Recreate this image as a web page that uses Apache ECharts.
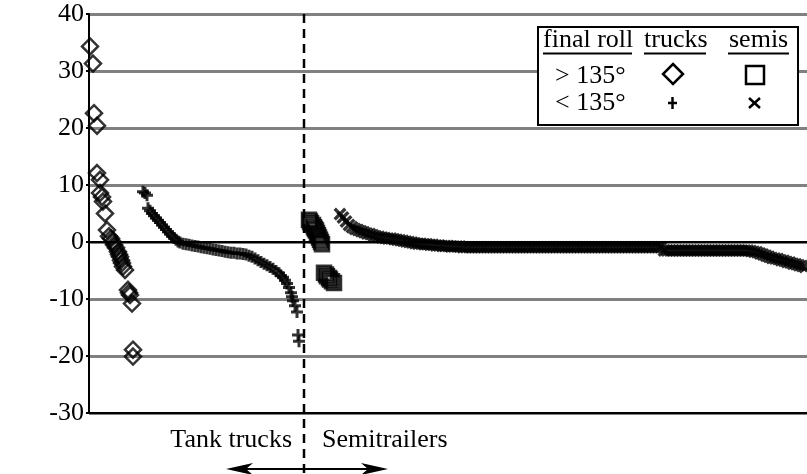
<!DOCTYPE html>
<html>
<head>
<meta charset="utf-8">
<script src="https://cdn.jsdelivr.net/npm/echarts/dist/echarts.min.js"></script>
<style>
  html, body { margin: 0; padding: 0; background: #fff; }
  #chart { width: 807px; height: 474px; }
</style>
</head>
<body>
<div id="chart"></div>
<script>
// Pitch axis
const yMin = -30, yMax = 40, yStep = 10;
// Vehicles are ranked along x; the divider separates tank trucks from semitrailers
const rankMax = 718;
const dividerRank = 215;

// Tank trucks, final roll > 135 deg
const truckRollHighRank  = [1, 4, 5, 8, 8, 11, 11, 13, 14, 16, 18, 20, 22, 24, 25, 27, 29, 30, 31, 32, 33, 34, 36, 39, 40, 41, 43, 44, 44];
const truckRollHighPitch = [34.3, 31.3, 22.6, 20.4, 12.1, 10.9, 8.6, 7.9, 7.1, 5.0, 2.1, 1.0, 0.6, 0.0, -0.5, -1.0, -1.7, -2.2, -2.6, -3.2, -3.7, -4.3, -4.9, -8.4, -8.9, -9.3, -10.8, -18.9, -20.1];

// Tank trucks, final roll < 135 deg
const truckRollLowRank  = [54, 56, 58, 59, 61, 63, 65, 67, 69, 71, 73, 75, 77, 79, 81, 83, 85, 87, 89, 91, 94, 97, 100, 103, 106, 109, 112, 115, 118, 121, 124, 127, 130, 133, 136, 139, 142, 145, 148, 151, 154, 157, 160, 163, 166, 169, 172, 175, 178, 181, 184, 187, 190, 192, 194, 196, 198, 200, 202, 203, 204, 206, 208, 209, 210];
const truckRollLowPitch = [8.8, 8.6, 8.2, 5.9, 5.5, 5.0, 4.6, 4.2, 3.8, 3.4, 3.0, 2.6, 2.2, 1.8, 1.4, 1.0, 0.7, 0.4, 0.1, -0.1, -0.3, -0.4, -0.5, -0.6, -0.7, -0.8, -0.9, -1.0, -1.1, -1.2, -1.3, -1.4, -1.5, -1.6, -1.7, -1.8, -1.9, -1.9, -2.0, -2.0, -2.1, -2.2, -2.4, -2.6, -2.9, -3.2, -3.5, -3.8, -4.1, -4.4, -4.7, -5.1, -5.5, -5.9, -6.2, -6.7, -7.3, -8.0, -8.9, -9.6, -10.3, -11.2, -12.3, -16.3, -17.4];

// Semitrailers, final roll > 135 deg
const semiRollHighRank  = [220, 221, 222, 224, 225, 226, 227, 228, 229, 230, 231, 232, 233, 235, 237, 238, 240, 241, 243, 245];
const semiRollHighPitch = [3.9, 3.6, 3.3, 3.0, 2.6, 2.3, 2.0, 1.6, 1.2, 0.8, 0.4, 0.0, -0.4, -5.4, -5.7, -6.0, -6.3, -6.6, -6.9, -7.2];

// Semitrailers, final roll < 135 deg
const semiRollLowRank = [
  251, 254, 257, 260, 263, 266, 269, 272, 275, 278, 281, 284, 287, 290, 293, 296, 299, 302, 305, 308, 311, 314,
  317, 320, 323, 326, 329, 332, 335, 338, 341, 344, 347, 350, 353, 356, 359, 362, 365, 368, 371, 374, 377,
  380, 383, 386, 389, 392, 395, 398, 401, 404, 407, 410, 413, 416, 419, 422, 425, 428, 431, 434, 437, 440, 443,
  446, 449, 452, 455, 458, 461, 464, 467, 470, 473, 476, 479, 482, 485, 488, 491, 494, 497, 500, 503, 506, 509,
  512, 515, 518, 521, 524, 527, 530, 533, 536, 539, 542, 545, 548, 551, 554, 557, 560, 563, 566, 569, 572,
  575, 578, 581, 584, 587, 590, 593, 596, 599, 602, 605, 608, 611, 614, 617, 620, 623, 626, 629, 632, 635, 638,
  641, 644, 647, 650, 653, 656, 659,
  662, 665, 668, 671, 674, 677, 680, 683, 686, 689, 692, 695, 698, 701, 704, 707, 710, 713, 716, 719
];
const semiRollLowPitch = [
  4.9, 4.3, 3.6, 3.0, 2.6, 2.3, 2.1, 1.9, 1.7, 1.5, 1.4, 1.2, 1.0, 0.9, 0.8, 0.7, 0.6, 0.6, 0.5, 0.4, 0.3, 0.2,
  0.1, 0.0, -0.1, -0.2, -0.3, -0.3, -0.4, -0.4, -0.5, -0.5, -0.6, -0.6, -0.7, -0.7, -0.7, -0.8, -0.8, -0.8, -0.8, -0.9, -0.9,
  -0.9, -0.9, -0.9, -0.9, -0.9, -0.9, -0.9, -0.9, -0.9, -0.9, -0.9, -0.9, -0.9,
  -0.9, -0.9, -0.9, -0.9, -0.9, -0.9, -0.9, -0.9, -0.9, -0.9, -0.9, -0.9, -0.9,
  -0.9, -0.9, -0.9, -0.9, -0.9, -0.9, -0.9, -0.9, -0.9, -0.9, -0.9, -0.9, -0.9,
  -0.9, -0.9, -0.9, -0.9, -0.9, -0.9, -0.9, -0.9, -0.9, -0.9, -0.9, -0.9, -0.9,
  -0.9, -0.9, -0.9, -0.9, -0.9, -0.9, -0.9, -0.9, -0.9, -0.9, -0.9, -0.9, -0.9,
  -1.5, -1.5, -1.5, -1.5, -1.5, -1.5, -1.5, -1.5, -1.5, -1.5, -1.5, -1.5, -1.5, -1.5, -1.5,
  -1.5, -1.5, -1.5, -1.5, -1.5, -1.5, -1.5, -1.5, -1.5, -1.5, -1.5, -1.5, -1.5, -1.5,
  -1.6, -1.7, -1.8, -2.0, -2.2, -2.4, -2.6, -2.8, -2.9, -3.0, -3.2, -3.3, -3.5, -3.6, -3.8, -3.9, -4.1, -4.2, -4.4, -4.5
];

// Legend table text
const legendHeader = ['final roll', 'trucks', 'semis'];
const legendRows = ['> 135°', '< 135°'];
const groupLabels = ['Tank trucks', 'Semitrailers'];
const yAxisTitle = 'Final pitch angle, degrees';

(function () {
  const FONT = '"Liberation Serif", "Times New Roman", serif';
  const PLUS_PATH = 'path://M3,0H5V3H8V5H5V8H3V5H0V3H3Z';
  const CROSS_PATH = 'path://M1.5,0L4,2.5L6.5,0L8,1.5L5.5,4L8,6.5L6.5,8L4,5.5L1.5,8L0,6.5L2.5,4L0,1.5Z';

  const zip = (xs, ys) => xs.map((x, i) => [x, ys[i]]);

  const chart = echarts.init(document.getElementById('chart'), null, { renderer: 'canvas' });

  const hollow = { color: 'rgba(0,0,0,0)', borderColor: '#000', borderWidth: 2.5 };
  const solid = { color: '#000', borderWidth: 0 };

  chart.setOption({
    animation: false,
    backgroundColor: '#fff',
    grid: { left: 89, right: 0, top: 14, bottom: 61, containLabel: false },
    xAxis: {
      type: 'value', min: 0, max: rankMax,
      axisLine: { show: true, onZero: false, lineStyle: { color: '#000', width: 2 } },
      axisTick: { show: false }, axisLabel: { show: false }, splitLine: { show: false }
    },
    yAxis: {
      type: 'value', min: yMin, max: yMax, interval: yStep,
      axisLine: { show: true, lineStyle: { color: '#000', width: 2 } },
      axisTick: { show: true, length: 3, lineStyle: { color: '#000', width: 2 } },
      axisLabel: { color: '#000', fontFamily: FONT, fontSize: 26, margin: 5 },
      splitLine: { show: true, lineStyle: { color: '#808080', width: 3 } }
    },
    series: [
      {
        name: 'trucks > 135', type: 'scatter', symbol: 'diamond', symbolSize: 16,
        itemStyle: hollow, data: zip(truckRollHighRank, truckRollHighPitch),
        markLine: {
          silent: true, symbol: 'none', label: { show: false },
          lineStyle: { color: '#000', width: 2, type: 'solid' },
          data: [{ yAxis: 0 }]
        }
      },
      {
        name: 'trucks < 135', type: 'scatter', symbol: PLUS_PATH, symbolSize: 12,
        itemStyle: solid, data: zip(truckRollLowRank, truckRollLowPitch)
      },
      {
        name: 'semis > 135', type: 'scatter', symbol: 'rect', symbolSize: 14,
        itemStyle: hollow, data: zip(semiRollHighRank, semiRollHighPitch)
      },
      {
        name: 'semis < 135', type: 'scatter', symbol: CROSS_PATH, symbolSize: 13,
        itemStyle: solid, data: zip(semiRollLowRank, semiRollLowPitch)
      }
    ]
  });

  // Annotations: divider, group labels, arrow, legend table, axis title
  const divTop = chart.convertToPixel({ gridIndex: 0 }, [dividerRank, yMax]);
  const dx = Math.round(divTop[0]);
  const H = chart.getHeight();

  const txt = (x, y, s, align, extra) => Object.assign({
    type: 'text', z: 110, x: x, y: y,
    style: { text: s, font: '26px ' + FONT, fill: '#000', align: align || 'left', verticalAlign: 'middle' }
  }, extra || {});

  const lx = 538, ly = 27, lw = 260, lh = 98;
  const dia = (cx, cy, r) => ({ type: 'polygon', z: 110,
    shape: { points: [[cx, cy - r], [cx + r, cy], [cx, cy + r], [cx - r, cy]] },
    style: { fill: 'none', stroke: '#000', lineWidth: 2.5 } });
  const seg = (x1, y1, x2, y2, w) => ({ type: 'line', z: 110,
    shape: { x1: x1, y1: y1, x2: x2, y2: y2 }, style: { stroke: '#000', lineWidth: w } });

  chart.setOption({
    graphic: [
      { type: 'line', z: 50, shape: { x1: dx, y1: divTop[1], x2: dx, y2: H },
        style: { stroke: '#000', lineWidth: 2.5, lineDash: [9, 6] } },
      txt(dx - 12, 440, groupLabels[0], 'right'),
      txt(dx + 18, 440, groupLabels[1], 'left'),
      seg(236, 469, 378, 469, 2),
      { type: 'polygon', z: 110, shape: { points: [[226, 469], [253, 463], [246, 469], [253, 475]] }, style: { fill: '#000' } },
      { type: 'polygon', z: 110, shape: { points: [[388, 469], [361, 463], [368, 469], [361, 475]] }, style: { fill: '#000' } },
      txt(21, 215, yAxisTitle, 'center', { rotation: Math.PI / 2, originX: 21, originY: 215 }),
      { type: 'rect', z: 105, shape: { x: lx, y: ly, width: lw, height: lh },
        style: { fill: '#fff', stroke: '#000', lineWidth: 2 } },
      txt(543, 40, legendHeader[0]),
      txt(644, 40, legendHeader[1]),
      txt(729, 40, legendHeader[2]),
      seg(543, 53.5, 632, 53.5, 2),
      seg(644, 53.5, 706, 53.5, 2),
      seg(728, 53.5, 789, 53.5, 2),
      txt(555, 76, legendRows[0]),
      txt(555, 103, legendRows[1]),
      dia(673, 74, 10),
      { type: 'rect', z: 110, shape: { x: 746, y: 66, width: 18, height: 18 },
        style: { fill: 'none', stroke: '#000', lineWidth: 2.5 } },
      seg(668, 103, 677, 103, 2.5),
      seg(672.5, 97, 672.5, 109, 2.5),
      seg(749, 98, 760, 108, 2.5),
      seg(749, 108, 760, 98, 2.5)
    ]
  });
})();
</script>
</body>
</html>
